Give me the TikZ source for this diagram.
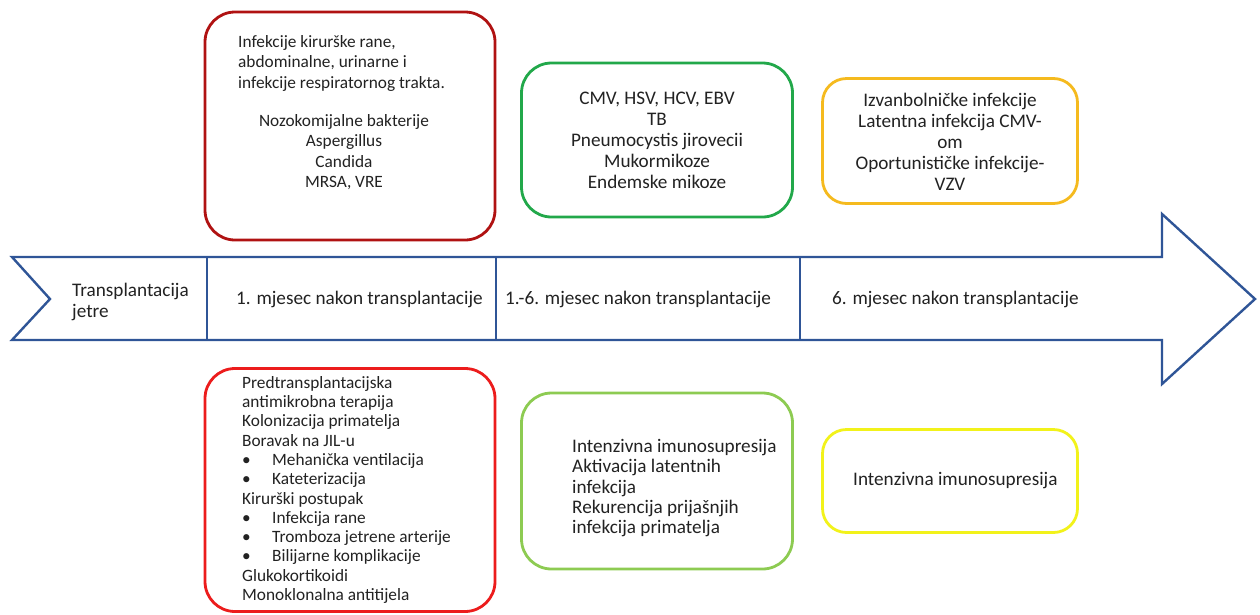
\documentclass[tikz,border=0pt]{standalone}
\usepackage{fontspec}
\setmainfont{Carlito}
\usepackage[HTML]{xcolor}
\usetikzlibrary{positioning}

\definecolor{axisblue}{HTML}{2F5597}
\definecolor{earlyred}{HTML}{B01212}
\definecolor{midgreen}{HTML}{22A84A}
\definecolor{lategold}{HTML}{F5BA1E}
\definecolor{riskred}{HTML}{EC1C1C}
\definecolor{riskgreen}{HTML}{8DCB52}
\definecolor{riskyellow}{HTML}{F2F21A}
\definecolor{inktext}{HTML}{222222}

\begin{document}
\begin{tikzpicture}[
    x=1pt, y=-1pt, % one unit per pixel, y pointing down
    every node/.style={inner sep=0pt, text=inktext},
    phasebox/.style={draw=#1, line width=2.8pt, rounded corners=30pt, fill=white},
    bigtext/.style={font=\fontsize{19.2}{21}\selectfont},
    smalltext/.style={font=\fontsize{17.3}{20.5}\selectfont},
    listtext/.style={font=\fontsize{17.3}{19.3}\selectfont, align=left, anchor=north west},
    axis/.style={draw=axisblue, line width=2.4pt, line join=miter}
]
    \useasboundingbox (0,0) rectangle (1260,614);

    % 1. The time axis (block arrow with notched tail)
    \draw[axis, fill=white] (12,257) -- (1162,257) -- (1162,214) -- (1255,299)
        -- (1162,384) -- (1162,340) -- (12,340) -- (50,299) -- cycle;
    % phase dividers
    \foreach \x in {207, 496, 800}
        \draw[axis] (\x,257) -- (\x,340);

    % phase labels on the axis
    \node[bigtext, align=left, anchor=north west] (start) at (72,283) {Transplantacija\\jetre};
    \node[bigtext, anchor=base west] (phaseone) at (236,304) {1. mjesec nakon transplantacije};
    \node[bigtext, anchor=base west] (phasetwo) at (505,304) {1.-6. mjesec nakon transplantacije};
    \node[bigtext, anchor=base west] (phasethree) at (832,304) {6. mjesec nakon transplantacije};

    % 2. Infections (above the axis)
    \node[phasebox=earlyred, minimum width=290pt, minimum height=228pt] (earlyinf) at (350,126) {};
    \node[smalltext, align=left, anchor=north west] (earlysites) at (238,35)
        {Infekcije kirurške rane,\\abdominalne, urinarne i\\infekcije respiratornog trakta.};
    \node[smalltext, align=center, anchor=north] (earlybugs) at (344,114)
        {Nozokomijalne bakterije\\Aspergillus\\Candida\\MRSA, VRE};

    \node[phasebox=midgreen, minimum width=271pt, minimum height=154pt] (midinf) at (657,140) {};
    \node[bigtext, align=center] (midbugs) at (midinf.center)
        {CMV, HSV, HCV, EBV\\TB\\Pneumocystis jirovecii\\Mukormikoze\\Endemske mikoze};

    \node[phasebox=lategold, rounded corners=24pt, minimum width=255pt, minimum height=125pt] (lateinf) at (950,141) {};
    \node[bigtext, align=center, anchor=north] (latebugs) at (950,93)
        {Izvanbolničke infekcije\\Latentna infekcija CMV-\\om\\Oportunističke infekcije-\\VZV};

    % 3. Risk factors (below the axis)
    \node[phasebox=riskred, minimum width=290pt, minimum height=243pt] (earlyrisk) at (350,490) {};
    \node[listtext] (earlylist) at (242,376)
        {Predtransplantacijska\\antimikrobna terapija\\Kolonizacija primatelja\\Boravak na JIL-u\\
         \makebox[30pt][l]{•}Mehanička ventilacija\\\makebox[30pt][l]{•}Kateterizacija\\
         Kirurški postupak\\\makebox[30pt][l]{•}Infekcija rane\\
         \makebox[30pt][l]{•}Tromboza jetrene arterije\\\makebox[30pt][l]{•}Bilijarne komplikacije\\
         Glukokortikoidi\\Monoklonalna antitijela};

    \node[phasebox=riskgreen, minimum width=271pt, minimum height=176pt] (midrisk) at (657,481) {};
    \node[bigtext, align=left, anchor=north west, font=\fontsize{19.2}{20.3}\selectfont] (midlist) at (572,439)
        {Intenzivna imunosupresija\\Aktivacija latentnih\\infekcija\\Rekurencija prijašnjih\\infekcija primatelja};

    \node[phasebox=riskyellow, rounded corners=24pt, minimum width=255pt, minimum height=103pt] (laterisk) at (950,481) {};
    \node[bigtext, anchor=base west] (latelist) at (853,485) {Intenzivna imunosupresija};

\end{tikzpicture}
\end{document}
